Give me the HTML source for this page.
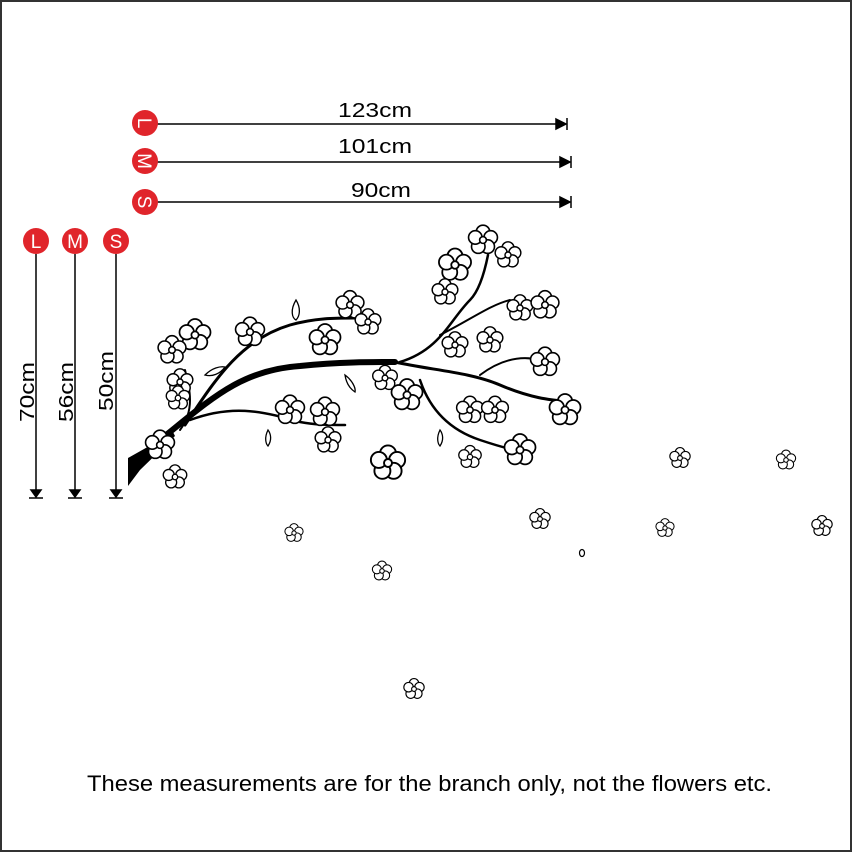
<!DOCTYPE html>
<html><head><meta charset="utf-8"><style>
html,body{margin:0;padding:0;background:#fff}
svg{display:block}
text{font-family:"Liberation Sans",sans-serif}
</style></head><body>
<svg width="852" height="852" viewBox="0 0 852 852" xmlns="http://www.w3.org/2000/svg">
<defs>
<g id="f">
<circle cx="0" cy="-6" r="5" /><circle cx="5.7" cy="-1.9" r="5"/><circle cx="3.5" cy="4.9" r="5"/><circle cx="-3.5" cy="4.9" r="5"/><circle cx="-5.7" cy="-1.9" r="5"/>
<circle cx="0" cy="0" r="2.5"/>
</g>
</defs>
<rect x="1" y="1" width="850" height="850" fill="#fff" stroke="#333" stroke-width="2"/>

<g stroke="#000" stroke-width="1.5" fill="#000">
<line x1="156" y1="124" x2="560" y2="124"/><path d="M556 119 L566 124 L556 129Z"/><line x1="567" y1="118" x2="567" y2="130"/>
<line x1="156" y1="162" x2="564" y2="162"/><path d="M560 157 L570 162 L560 167Z"/><line x1="571" y1="156" x2="571" y2="168"/>
<line x1="156" y1="202" x2="564" y2="202"/><path d="M560 197 L570 202 L560 207Z"/><line x1="571" y1="196" x2="571" y2="208"/>
</g>
<g fill="#000" font-size="20" text-anchor="middle">
<text x="375" y="117" textLength="74" lengthAdjust="spacingAndGlyphs">123cm</text>
<text x="375" y="153" textLength="74" lengthAdjust="spacingAndGlyphs">101cm</text>
<text x="381" y="197" textLength="60" lengthAdjust="spacingAndGlyphs">90cm</text>
</g>
<g fill="#e0252b">
<circle cx="145" cy="123" r="13"/><circle cx="145" cy="161" r="13"/><circle cx="145" cy="202" r="13"/>
<circle cx="36" cy="241" r="13"/><circle cx="75" cy="241" r="13"/><circle cx="116" cy="241" r="13"/>
</g>
<g fill="#fff" font-size="19" text-anchor="middle">
<g transform="translate(145,123) rotate(90)"><text x="0" y="7">L</text></g>
<g transform="translate(145,161) rotate(90)"><text x="0" y="7">M</text></g>
<g transform="translate(145,202) rotate(90)"><text x="0" y="7">S</text></g>
<text x="36" y="248">L</text><text x="75" y="248">M</text><text x="116" y="248">S</text>
</g>
<g stroke="#000" stroke-width="1.5" fill="#000">
<line x1="36" y1="254" x2="36" y2="492"/><path d="M31 490 L36 497 L41 490Z"/><line x1="29" y1="498" x2="43" y2="498"/>
<line x1="75" y1="254" x2="75" y2="492"/><path d="M70 490 L75 497 L80 490Z"/><line x1="68" y1="498" x2="82" y2="498"/>
<line x1="116" y1="254" x2="116" y2="492"/><path d="M111 490 L116 497 L121 490Z"/><line x1="109" y1="498" x2="123" y2="498"/>
</g>
<g fill="#000" font-size="20" text-anchor="middle">
<text transform="translate(34,392) rotate(-90)" textLength="60" lengthAdjust="spacingAndGlyphs">70cm</text>
<text transform="translate(73,392) rotate(-90)" textLength="60" lengthAdjust="spacingAndGlyphs">56cm</text>
<text transform="translate(113,381) rotate(-90)" textLength="60" lengthAdjust="spacingAndGlyphs">50cm</text>
</g>

<path d="M128 458 L160 440 L172 430 L175 436 L140 470 L128 486Z" fill="#000"/>
<g fill="none" stroke="#000" stroke-linecap="round">
<path d="M160 440 C210 400 240 370 300 366 C340 362 370 362 395 362" stroke-width="6"/>
<path d="M395 362 C430 370 470 372 500 385 C530 398 550 400 570 402" stroke-width="3"/>
<path d="M185 425 C215 380 240 340 290 325 C315 318 335 318 355 318" stroke-width="3"/>
<path d="M190 420 C230 405 260 410 300 422 C315 425 330 425 345 425" stroke-width="2.5"/>
<path d="M180 430 C195 410 190 390 185 370" stroke-width="2"/>
<path d="M400 362 C440 350 450 320 470 300 C480 290 485 270 488 255" stroke-width="2.5"/>
<path d="M440 335 C470 320 490 305 510 300" stroke-width="2"/>
<path d="M420 380 C430 410 450 430 480 440 C495 445 505 448 515 450" stroke-width="2.5"/>
<path d="M480 375 C500 360 520 355 540 360" stroke-width="2"/>
</g>

<g fill="#fff" stroke="#000" stroke-width="1.2">
<use href="#f" transform="translate(195,335) scale(1.45)"/>
<use href="#f" transform="translate(172,350) scale(1.3)"/>
<use href="#f" transform="translate(180,382) scale(1.2)"/>
<use href="#f" transform="translate(178,398) scale(1.1)"/>
<use href="#f" transform="translate(250,332) scale(1.35)"/>
<use href="#f" transform="translate(325,340) scale(1.45)"/>
<use href="#f" transform="translate(350,305) scale(1.3)"/>
<use href="#f" transform="translate(368,322) scale(1.2)"/>
<use href="#f" transform="translate(455,265) scale(1.5)"/>
<use href="#f" transform="translate(483,240) scale(1.35)"/>
<use href="#f" transform="translate(508,255) scale(1.2)"/>
<use href="#f" transform="translate(445,292) scale(1.2)"/>
<use href="#f" transform="translate(520,308) scale(1.2)"/>
<use href="#f" transform="translate(545,305) scale(1.3)"/>
<use href="#f" transform="translate(545,362) scale(1.35)"/>
<use href="#f" transform="translate(565,410) scale(1.45)"/>
<use href="#f" transform="translate(455,345) scale(1.2)"/>
<use href="#f" transform="translate(490,340) scale(1.2)"/>
<use href="#f" transform="translate(385,378) scale(1.15)"/>
<use href="#f" transform="translate(407,395) scale(1.45)"/>
<use href="#f" transform="translate(470,410) scale(1.25)"/>
<use href="#f" transform="translate(495,410) scale(1.25)"/>
<use href="#f" transform="translate(290,410) scale(1.35)"/>
<use href="#f" transform="translate(325,412) scale(1.35)"/>
<use href="#f" transform="translate(328,440) scale(1.2)"/>
<use href="#f" transform="translate(160,445) scale(1.35)"/>
<use href="#f" transform="translate(175,477) scale(1.1)"/>
<use href="#f" transform="translate(388,463) scale(1.6)"/>
<use href="#f" transform="translate(470,457) scale(1.05)"/>
<use href="#f" transform="translate(520,450) scale(1.45)"/>
<use href="#f" transform="translate(680,458) scale(0.95)"/>
<use href="#f" transform="translate(786,460) scale(0.9)"/>
<use href="#f" transform="translate(822,526) scale(0.95)"/>
<use href="#f" transform="translate(665,528) scale(0.85)"/>
<use href="#f" transform="translate(540,519) scale(0.95)"/>
<use href="#f" transform="translate(294,533) scale(0.85)"/>
<use href="#f" transform="translate(382,571) scale(0.9)"/>
<use href="#f" transform="translate(414,689) scale(0.95)"/>
<ellipse cx="582" cy="553" rx="2.5" ry="3.5"/>
</g>
<g fill="#fff" stroke="#000" stroke-width="1.3">
<path d="M296 300 C290 310 292 318 296 320 C300 316 301 308 296 300Z"/>
<path d="M205 375 C212 368 220 366 225 367 C220 374 212 377 205 375Z"/>
<path d="M345 375 C352 380 356 388 355 392 C349 388 346 382 345 375Z"/>
<path d="M268 430 C264 438 266 444 268 446 C272 440 271 434 268 430Z"/>
<path d="M440 430 C436 438 438 444 440 446 C444 440 443 434 440 430Z"/>
</g>

<text x="429.5" y="791" font-size="22" text-anchor="middle" fill="#000" textLength="685" lengthAdjust="spacingAndGlyphs">These measurements are for the branch only, not the flowers etc.</text>
</svg>
</body></html>
